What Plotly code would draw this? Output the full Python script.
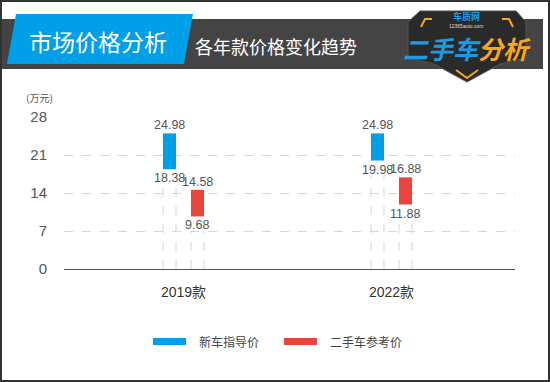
import plotly.graph_objects as go

# ---- data ----
categories = ["2019款", "2022款"]
new_high = [24.98, 24.98]
new_low = [18.38, 19.98]
used_high = [14.58, 16.88]
used_low = [9.68, 11.88]
y_ticks = [0, 7, 14, 21, 28]
series_names = ["新车指导价", "二手车参考价"]

BLUE = "#00a0e9"
RED = "#e8453c"
FONT = "Noto Sans CJK SC, sans-serif"
NUMFONT = "Liberation Sans, Noto Sans CJK SC, sans-serif"

W, H = 550, 382
L, R, T, B = 64, 515, 117, 269


def px(x):
    return (x - L) / (R - L)


def py(y):
    return (B - y) / (B - T)


xs = list(range(len(categories)))
off = 0.0673
bw = 0.0625

fig = go.Figure()

# dashed guide lines from bar bottom down to axis
def guides(centers, lows):
    gx, gy = [], []
    for c, lo in zip(centers, lows):
        for e in (c - bw / 2, c + bw / 2):
            gx += [e, e, None]
            gy += [0, lo - 2.7, None]
    return gx, gy

bx = [x - off for x in xs]
rx = [x + off for x in xs]
for cs, lows in ((bx, new_low), (rx, used_low)):
    gx, gy = guides(cs, lows)
    fig.add_trace(go.Scatter(x=gx, y=gy, mode="lines", showlegend=False, hoverinfo="skip",
                             line=dict(color="#d4d4d4", width=1, dash="dash")))

fig.add_trace(go.Bar(x=bx, y=[h - l for h, l in zip(new_high, new_low)], base=new_low,
                     width=bw, marker=dict(color=BLUE, line=dict(width=0)),
                     name=series_names[0], showlegend=False))
fig.add_trace(go.Bar(x=rx, y=[h - l for h, l in zip(used_high, used_low)], base=used_low,
                     width=bw, marker=dict(color=RED, line=dict(width=0)),
                     name=series_names[1], showlegend=False))

ann = []
for cs, his, los in ((bx, new_high, new_low), (rx, used_high, used_low)):
    for c, h, l in zip(cs, his, los):
        ann.append(dict(x=c, y=h, xref="x", yref="y", text=f"{h:.2f}", showarrow=False,
                        yanchor="bottom", yshift=-1, font=dict(size=12.5, color="#555", family=NUMFONT)))
        ann.append(dict(x=c, y=l, xref="x", yref="y", text=f"{l:.2f}", showarrow=False,
                        yanchor="top", yshift=0, font=dict(size=12.5, color="#555", family=NUMFONT)))

# unit label
ann.append(dict(x=px(39), y=py(97), xref="paper", yref="paper", text="(万元)", showarrow=False,
                xanchor="center", yanchor="middle", font=dict(size=10, color="#555", family=FONT)))

# header titles
ann.append(dict(x=px(98), y=py(41), xref="paper", yref="paper", text="市场价格分析", showarrow=False,
                xanchor="center", yanchor="middle", font=dict(size=23, color="white", family=FONT)))
ann.append(dict(x=px(193), y=py(46), xref="paper", yref="paper", text="各年款价格变化趋势", showarrow=False,
                xanchor="left", yanchor="middle", font=dict(size=18, color="white", family=FONT)))

# logo texts
ann.append(dict(x=px(467), y=py(48), xref="paper", yref="paper",
                text='<b><i><span style="color:#1c9ae2">二手车</span><span style="color:#f6a623">分析</span></i></b>',
                showarrow=False, xanchor="center", yanchor="middle",
                font=dict(size=25, family=FONT)))
ann.append(dict(x=px(466), y=py(16), xref="paper", yref="paper", text="<b>车质网</b>",
                showarrow=False, xanchor="center", yanchor="middle", borderpad=0,
                font=dict(size=9, color="#1c9ae2", family=FONT)))
ann.append(dict(x=px(466), y=py(25.5), xref="paper", yref="paper", text="12365auto.com",
                showarrow=False, xanchor="center", yanchor="middle", borderpad=0,
                font=dict(size=5, color="#ddd", family="Liberation Sans")))

# legend texts
ann.append(dict(x=px(197), y=py(341), xref="paper", yref="paper", text=series_names[0], showarrow=False,
                xanchor="left", yanchor="middle", font=dict(size=12, color="#444", family=FONT)))
ann.append(dict(x=px(328), y=py(341), xref="paper", yref="paper", text=series_names[1], showarrow=False,
                xanchor="left", yanchor="middle", font=dict(size=12, color="#444", family=FONT)))


def rect(x0, y0, x1, y1, **kw):
    return dict(type="rect", xref="paper", yref="paper", x0=px(x0), x1=px(x1), y0=py(y0), y1=py(y1), **kw)


def path(pts, close=True, **kw):
    d = "M " + " L ".join(f"{px(a):.5f},{py(b):.5f}" for a, b in pts) + (" Z" if close else "")
    return dict(type="path", xref="paper", yref="paper", path=d, **kw)


shapes = [
    # frame
    rect(1, 1, 549, 381, line=dict(color="#333", width=2), layer="above"),
    # header band
    rect(2, 19, 543, 69, fillcolor="#444444", line=dict(width=0), layer="below"),
    # blue parallelogram
    path([(16, 14), (193, 14), (184, 64), (7, 64)], fillcolor="#00a0e9", line=dict(width=0), layer="below"),
    # logo shield
    path([(420, 11), (516, 11), (526, 22), (526, 58), (500, 64), (467, 82), (434, 64), (408, 58), (408, 22)],
         fillcolor="#2a2a2a", line=dict(color="#555", width=1), layer="below"),
    path([(432, 19), (425, 19), (421, 27)], close=False, line=dict(color="#f6a623", width=2), layer="below"),
    path([(502, 19), (509, 19), (513, 27)], close=False, line=dict(color="#f6a623", width=2), layer="below"),
    path([(456, 70), (467, 78), (478, 70)], close=False, line=dict(color="#f6a623", width=2), layer="below"),
    # legend swatches
    rect(153, 338, 186, 345, fillcolor=BLUE, line=dict(width=0)),
    rect(284, 338, 317, 345, fillcolor=RED, line=dict(width=0)),
]

fig.update_layout(
    width=W, height=H, autosize=False,
    margin=dict(l=L, r=W - R, t=T, b=H - B, pad=0),
    paper_bgcolor="white", plot_bgcolor="white",
    barmode="overlay", showlegend=False,
    font=dict(family=FONT),
    xaxis=dict(range=[-0.5745, 1.5938], tickvals=xs, ticktext=categories, showgrid=False, zeroline=False,
               showline=True, linecolor="#555", linewidth=1,
               ticks="outside", ticklen=10, tickcolor="rgba(0,0,0,0)",
               tickfont=dict(size=14, color="#333", family=NUMFONT)),
    yaxis=dict(range=[0, 28], tickvals=y_ticks, showgrid=True, gridcolor="#d6d6d6", griddash="dash",
               gridwidth=1, zeroline=False, showline=False, ticklabelstandoff=16,
               tickfont=dict(size=15, color="#555", family=NUMFONT)),
    annotations=ann, shapes=shapes,
)

fig.write_html("out.html", config={"displayModeBar": False},
               post_script="document.body.style.margin='0';document.body.style.overflow='hidden';")
